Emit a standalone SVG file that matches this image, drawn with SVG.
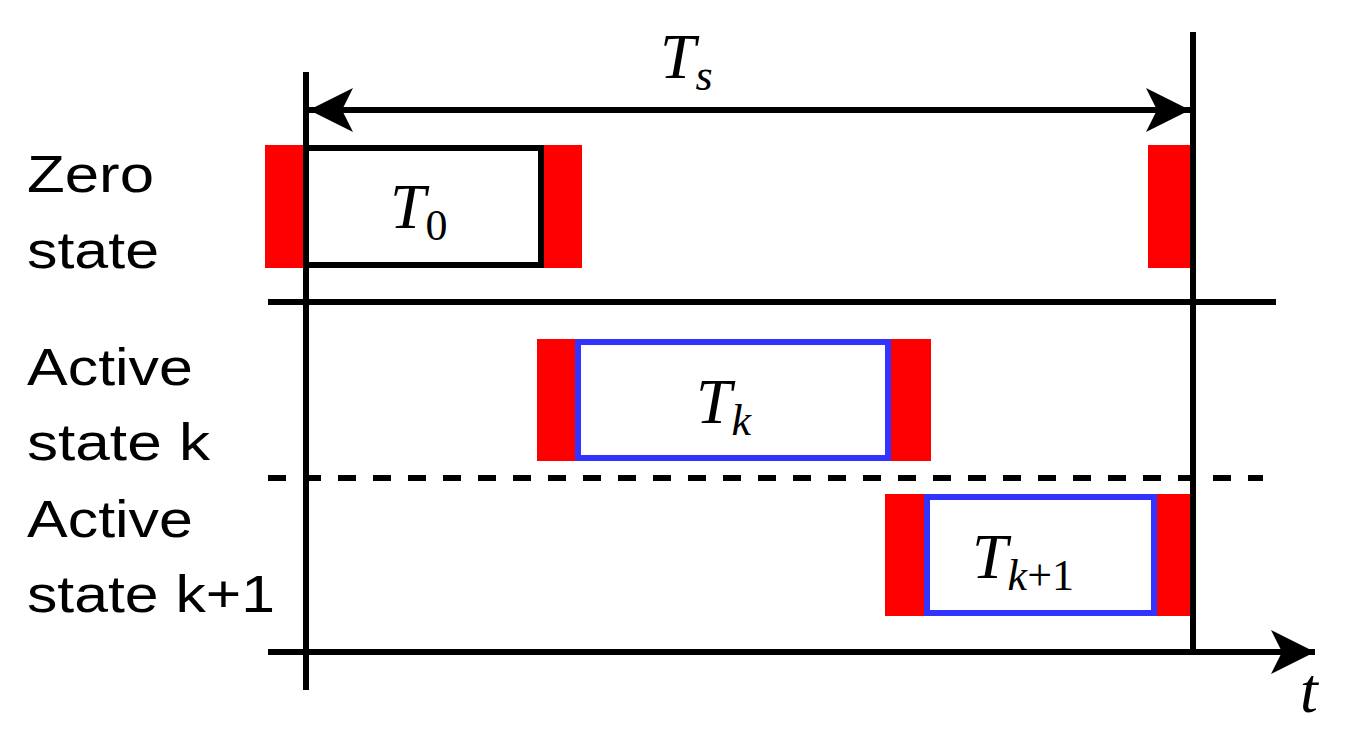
<svg xmlns="http://www.w3.org/2000/svg" width="1348" height="734" viewBox="0 0 1348 734">
<style>
.lbl{font-family:"Liberation Sans",Arial,sans-serif;font-size:52px;fill:#000}
.m{font-family:"Liberation Serif","Times New Roman",serif;font-style:italic;fill:#000}
.sub{font-family:"Liberation Serif","Times New Roman",serif;fill:#000}
.red{fill:#ff0000}
.ln{stroke:#000;stroke-width:6;fill:none}
</style>
<defs>
<marker id="ah2" viewBox="0 0 44 44" refX="44" refY="22" markerWidth="44" markerHeight="44" markerUnits="userSpaceOnUse" orient="auto-start-reverse"><path d="M0,0 L44,22 L0,44 L11,22 Z" fill="#000"/></marker>
</defs>
<g id="labels">
<text class="lbl" x="27" y="192" textLength="127" lengthAdjust="spacingAndGlyphs">Zero</text>
<text class="lbl" x="27" y="268" textLength="132" lengthAdjust="spacingAndGlyphs">state</text>
<text class="lbl" x="27" y="385" textLength="166" lengthAdjust="spacingAndGlyphs">Active</text>
<text class="lbl" x="27" y="460" textLength="183" lengthAdjust="spacingAndGlyphs">state k</text>
<text class="lbl" x="27" y="537" textLength="166" lengthAdjust="spacingAndGlyphs">Active</text>
<text class="lbl" x="27" y="612" textLength="248" lengthAdjust="spacingAndGlyphs">state k+1</text>
</g>
<g id="zero">
<rect class="red" x="265" y="145" width="40" height="123"/>
<rect class="red" x="543" y="145" width="39" height="123"/>
<rect x="306" y="148" width="235" height="117" fill="#fff" stroke="#000" stroke-width="6"/>
<text class="m" x="390" y="228" font-size="64">T<tspan class="sub" font-style="normal" font-size="44" dy="12">0</tspan></text>
<rect class="red" x="1148" y="145" width="45" height="123"/>
</g>
<g id="activek">
<rect class="red" x="537" y="339" width="40" height="122"/>
<rect class="red" x="889" y="339" width="42" height="122"/>
<rect x="578" y="342" width="310" height="116" fill="#fff" stroke="#3333ff" stroke-width="6"/>
<text class="m" x="696" y="423" font-size="64">T<tspan font-size="44" dy="12">k</tspan></text>
</g>
<g id="activek1">
<rect class="red" x="885" y="494" width="39" height="122"/>
<rect class="red" x="1155" y="494" width="36" height="122"/>
<rect x="927" y="497" width="227" height="116" fill="#fff" stroke="#3333ff" stroke-width="6"/>
<text class="m" x="972" y="578" font-size="64">T<tspan font-size="44" dy="12">k</tspan><tspan class="sub" font-style="normal" font-size="44">+1</tspan></text>
</g>
<g id="connectors">
<line class="ln" x1="306" y1="72" x2="306" y2="690"/>
<line class="ln" x1="1193" y1="32" x2="1193" y2="655"/>
<line class="ln" x1="309" y1="110" x2="1190" y2="110" marker-start="url(#ah2)" marker-end="url(#ah2)"/>
<line class="ln" x1="268" y1="302" x2="1276" y2="302"/>
<line class="ln" x1="268" y1="478" x2="1263" y2="478" stroke-dasharray="18 17"/>
<line class="ln" x1="268" y1="652" x2="1315" y2="652" marker-end="url(#ah2)"/>
</g>
<text class="m" x="660" y="78" font-size="64">T<tspan font-size="44" dy="12">s</tspan></text>
<text class="m" x="1300" y="712" font-size="64">t</text>
</svg>
